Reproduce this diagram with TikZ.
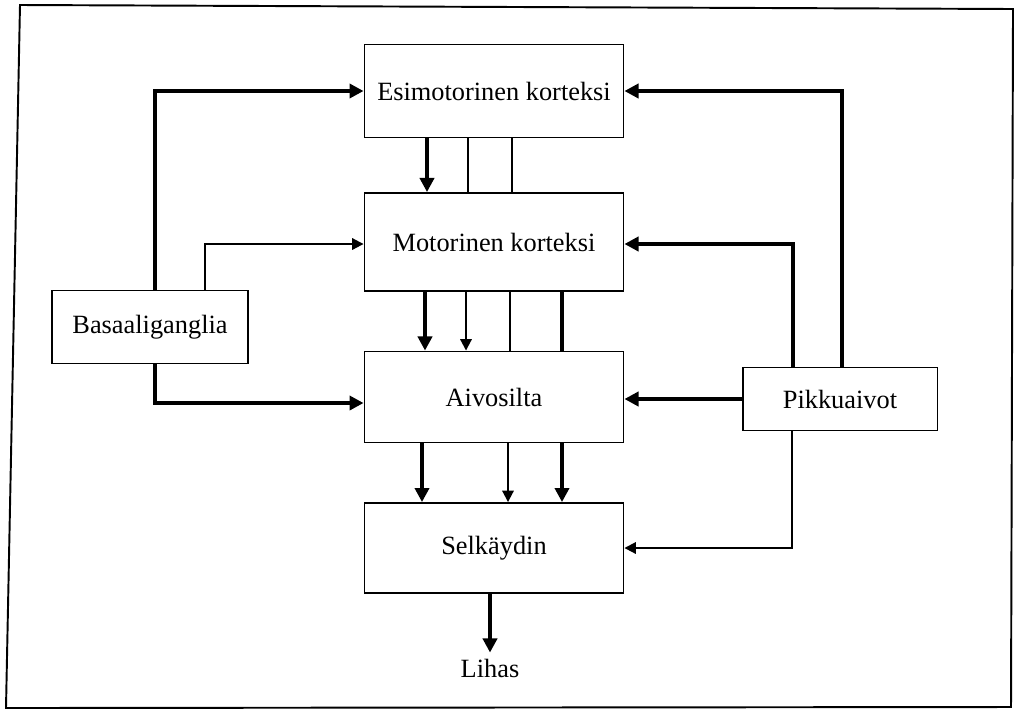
\documentclass[tikz,border=0pt]{standalone}
\usepackage{fontspec}
\setmainfont{Liberation Serif}
\usetikzlibrary{arrows.meta,calc}

\begin{document}
\begin{tikzpicture}[x=0.02cm,y=-0.02cm,
    box/.style={draw,line width=1.1pt,minimum width=5.18cm,font=\fontsize{15}{18}\selectfont},
    thk/.style={line width=2.8pt},
    thn/.style={line width=1.1pt},
    tip/.style={-{Triangle[length=8pt,width=8pt]}},
    stip/.style={-{Triangle[length=6.5pt,width=6.5pt]}}]
    \useasboundingbox (0,0) rectangle (1016,711);
    \draw[line width=1.1pt] (20,5)--(1013,9)--(1011,707)--(6,708)--cycle;
    % boxes
    \node[box,minimum height=1.86cm] (esi) at (494,91) {Esimotorinen korteksi};
    \node[box,minimum height=1.96cm] (mot) at (494,242) {Motorinen korteksi};
    \node[box,minimum height=1.82cm] (aivo) at (494,397) {Aivosilta};
    \node[box,minimum height=1.8cm] (selk) at (494,548) {Selkäydin};
    \node[box,minimum width=3.92cm,minimum height=1.46cm] (bas) at (150,327) {Basaaliganglia};
    \node[box,minimum width=3.9cm,minimum height=1.26cm] (pik) at (840,399) {Pikkuaivot};
    \node[font=\fontsize{15}{18}\selectfont] (lihas) at (490,668) {Lihas};
    % down the middle
    \draw[thk,tip] ($(esi.south)+(-67,0)$) -- ($(mot.north)+(-67,0)$);
    \draw[thn] ($(esi.south)+(-26,0)$) -- ($(mot.north)+(-26,0)$);
    \draw[thn] ($(esi.south)+(18,0)$) -- ($(mot.north)+(18,0)$);
    \draw[thk,tip] ($(mot.south)+(-69,0)$) -- ($(aivo.north)+(-69,0)$);
    \draw[thn,stip] ($(mot.south)+(-28,0)$) -- ($(aivo.north)+(-28,0)$);
    \draw[thn] ($(mot.south)+(16,0)$) -- ($(aivo.north)+(16,0)$);
    \draw[thk] ($(mot.south)+(68,0)$) -- ($(aivo.north)+(68,0)$);
    \draw[thk,tip] ($(aivo.south)+(-72,0)$) -- ($(selk.north)+(-72,0)$);
    \draw[thn,stip] ($(aivo.south)+(14,0)$) -- ($(selk.north)+(14,0)$);
    \draw[thk,tip] ($(aivo.south)+(68,0)$) -- ($(selk.north)+(68,0)$);
    \draw[thk,tip] ($(selk.south)+(-4,0)$) -- (lihas.north);
    % left side
    \draw[thk,tip] ($(bas.north)+(5,0)$) |- (esi.west);
    \draw[thn,stip] ($(bas.north)+(55,0)$) |- ($(mot.west)+(0,2)$);
    \draw[thk,tip] ($(bas.south)+(5,0)$) |- ($(aivo.west)+(0,6)$);
    % right side
    \draw[thk,tip] ($(pik.north)+(2,0)$) |- (esi.east);
    \draw[thk,tip] ($(pik.north)+(-47,0)$) |- ($(mot.east)+(0,2)$);
    \draw[thk,tip] (pik.west) -- (pik.west -| aivo.east);
    \draw[thn,stip] ($(pik.south)+(-48,0)$) |- (selk.east);
\end{tikzpicture}
\end{document}
